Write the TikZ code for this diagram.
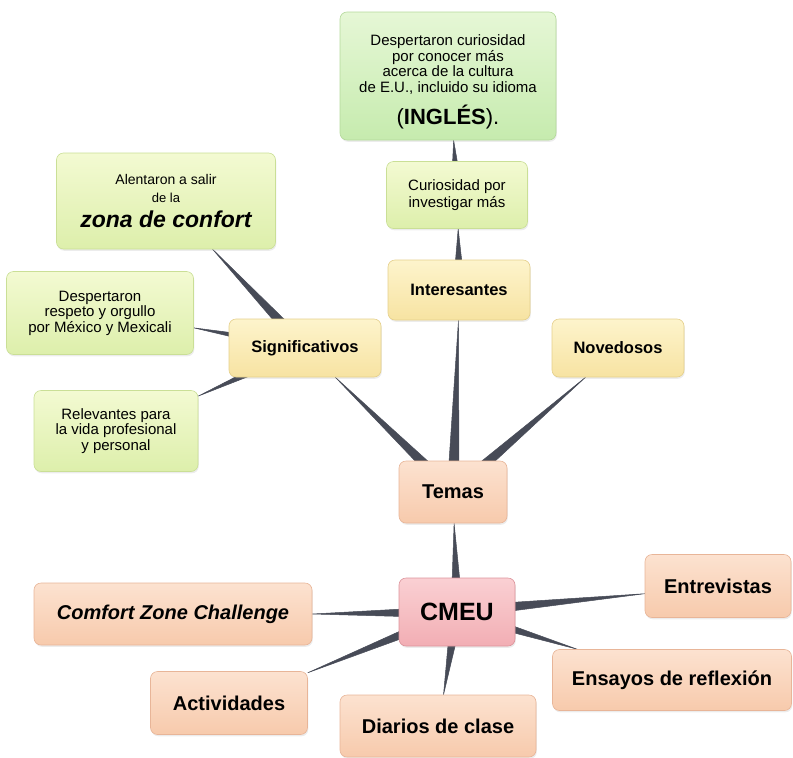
\documentclass[tikz,border=0pt]{standalone}
\usepackage{fontspec}
\setmainfont{Liberation Sans}
\usetikzlibrary{calc,backgrounds,shadows}

\definecolor{minttop}{HTML}{E6F7D6}
\definecolor{mintbot}{HTML}{C6EBAE}
\definecolor{mintline}{HTML}{B4D99B}
\definecolor{limetop}{HTML}{F3FAD2}
\definecolor{limebot}{HTML}{DDEFAB}
\definecolor{limeline}{HTML}{CADF96}
\definecolor{sandtop}{HTML}{FDF4CC}
\definecolor{sandbot}{HTML}{F7E3A2}
\definecolor{sandline}{HTML}{E5D08C}
\definecolor{peachtop}{HTML}{FCE2D0}
\definecolor{peachbot}{HTML}{F7CAAC}
\definecolor{peachline}{HTML}{E8B598}
\definecolor{rosetop}{HTML}{FAD0D3}
\definecolor{rosebot}{HTML}{F2AEB4}
\definecolor{roseline}{HTML}{DC949B}
\definecolor{spokecol}{HTML}{474B57}

\tikzset{
  box/.style={rectangle, rounded corners=7pt, align=center, inner sep=3pt,
    draw=#1line, line width=0.6pt, top color=#1top, bottom color=#1bot,
    drop shadow={opacity=0.15, shadow xshift=0.8pt, shadow yshift=-1.8pt}},
  idea/.style={box=#1, font=\fontsize{15}{15.5}\selectfont},
  topic/.style={box=sand, font=\fontsize{16.5}{18}\selectfont\bfseries},
  branch/.style={box=peach, font=\fontsize{20}{22}\selectfont\bfseries},
  spoke/.style={fill=spokecol, draw=spokecol, line width=0.5pt, line join=round}
}

% tapered connector, wide at the parent (#1), thin at the child (#2)
\newcommand{\spoke}[2]{%
  \filldraw[spoke] let \p1=($(#1)-(#2)$), \n1={atan2(\y1,\x1)} in
    ($(#1)!6pt!90:(#2)$) -- (#2.\n1) -- ($(#1)!6pt!-90:(#2)$) -- cycle;}

\begin{document}
\begin{tikzpicture}[x=1pt,y=-1pt]
    \useasboundingbox (0,0) rectangle (793,758);

    % centre and first level
    \node[box=rose, minimum width=116pt, minimum height=68pt,
          font=\fontsize{25}{27}\selectfont\bfseries] (cmeu) at (457,612) {CMEU};
    \node[branch, minimum width=108pt, minimum height=62pt] (temas) at (453,492) {Temas};
    \node[branch, minimum width=146pt, minimum height=63pt] (entrev) at (718,586) {Entrevistas};
    \node[branch, minimum width=239pt, minimum height=61pt] (ensayos) at (672,680) {Ensayos de reflexi\'on};
    \node[branch, minimum width=278pt, minimum height=62pt] (comfort) at (173,614) {\itshape Comfort Zone Challenge};
    \node[branch, minimum width=157pt, minimum height=63pt] (activ) at (229,703) {Actividades};
    \node[branch, minimum width=196pt, minimum height=62pt] (diarios) at (438,726) {Diarios de clase};

    % topics
    \node[topic, minimum width=152pt, minimum height=58pt] (signif) at (305,348) {Significativos};
    \node[topic, minimum width=142pt, minimum height=60pt] (inter) at (459,290) {Interesantes};
    \node[topic, minimum width=132pt, minimum height=58pt] (nov) at (618,348) {Novedosos};

    % ideas
    \node[idea=mint, minimum width=216pt, minimum height=128pt] (cultura) at (448,76)
        {\rule{0pt}{23pt}Despertaron curiosidad\\ por conocer m\'as\\ acerca de la cultura\\ de E.U., incluido su idioma\\[10pt]
         {\fontsize{22}{22}\selectfont(\textbf{INGL\'ES}).}};
    \node[idea=lime, minimum width=141pt, minimum height=67pt,
          font=\fontsize{15}{17}\selectfont] (curio) at (457,195) {Curiosidad por\\ investigar m\'as};
    \node[idea=lime, minimum width=219pt, minimum height=96pt] (alent) at (166,201)
        {\fontsize{14}{16}\selectfont Alentaron a salir\\[2pt] {\fontsize{13}{15}\selectfont de la}\\[7pt]
         {\fontsize{23}{24}\selectfont\bfseries\itshape zona de confort}};
    \node[idea=lime, minimum width=187pt, minimum height=83pt] (respeto) at (100,313)
        {Despertaron\\ respeto y orgullo\\ por M\'exico y Mexicali};
    \node[idea=lime, minimum width=164pt, minimum height=81pt] (relev) at (116,431)
        {Relevantes para\\ la vida profesional\\ y personal};

    \begin{scope}[on background layer]
        \foreach \a/\b in {cmeu/temas, cmeu/comfort, cmeu/activ, cmeu/diarios, cmeu/entrev,
                           cmeu/ensayos, temas/signif, temas/inter, temas/nov, inter/curio,
                           curio/cultura, signif/alent, signif/respeto, signif/relev}
            \spoke{\a}{\b};
    \end{scope}
\end{tikzpicture}
\end{document}
